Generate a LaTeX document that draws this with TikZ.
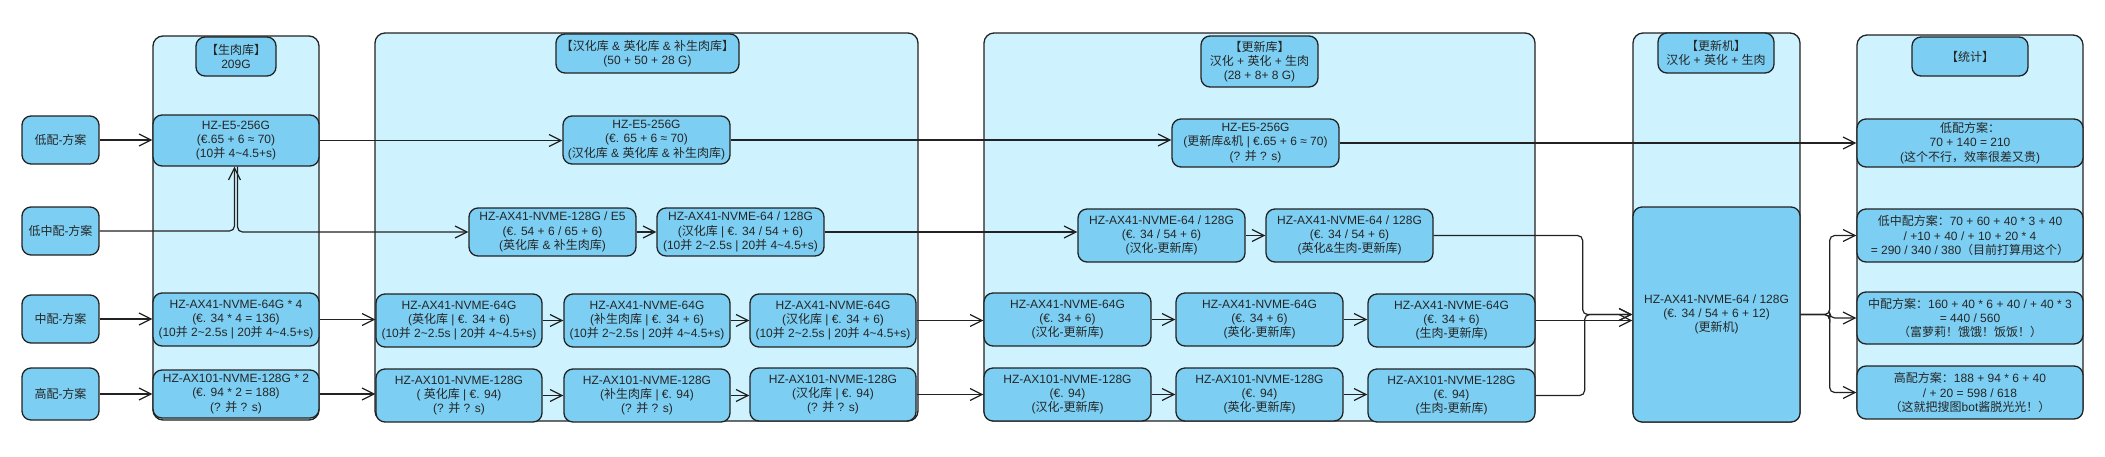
\documentclass[tikz,border=0pt]{standalone}
\usepackage{fontspec}
\setmainfont{Liberation Sans}
\newfontfamily\latinfont{Liberation Sans}
\newfontfamily\cjkfont{Noto Sans CJK SC}
\usetikzlibrary{arrows.meta}
\definecolor{nodefill}{HTML}{7CCFF3}
\definecolor{grpfill}{HTML}{CEF3FE}
\definecolor{edgecol}{HTML}{222222}
\XeTeXinterchartokenstate=1
\newXeTeXintercharclass\cjkclass
\newcount\cjkcnt
\def\setcjkrange#1#2{\cjkcnt=#1\relax\loop\XeTeXcharclass\cjkcnt=\cjkclass\advance\cjkcnt by 1\relax\ifnum\cjkcnt<#2\repeat}
\setcjkrange{"3000}{"3040}
\setcjkrange{"4E00}{"A000}
\setcjkrange{"FF00}{"FFF0}
\XeTeXinterchartoks 0 \cjkclass = {\cjkfont}
\XeTeXinterchartoks 4095 \cjkclass = {\cjkfont}
\XeTeXinterchartoks \cjkclass 0 = {\latinfont}
\XeTeXinterchartoks \cjkclass 4095 = {\latinfont}
\newcommand\tld{\char"7E\relax}
\newcommand\boxnode[7][box]{\node[#1,minimum width={(#5-(#3))*1pt},minimum height={(#6-(#4))*1pt}] (#2) at ({(#3+#5)/2},{(#4+#6)/2}) {#7};}
\begin{document}
\begin{tikzpicture}[x=1pt,y=-1pt,
  box/.style={draw=edgecol,line width=1.3pt,fill=nodefill,rounded corners=9pt,align=center,inner sep=0pt,text=black!85,font=\fontsize{12}{14.2}\selectfont},
  grp/.style={draw=edgecol,line width=1.3pt,fill=grpfill,rounded corners=10pt,inner sep=0pt},
  conn/.style={draw=edgecol,line width=1.2pt,rounded corners=5pt,-{Straight Barb[length=12pt,width=12pt]}}]
\useasboundingbox (0,0) rectangle (2105,456);
% groups
\boxnode[grp]{g1f}{153}{36}{319}{420}{}
\boxnode[grp]{g2f}{375}{33}{918}{421}{}
\boxnode[grp]{g3f}{984}{33}{1535}{421}{}
\boxnode[grp]{g4f}{1633}{33}{1800}{422}{}
\boxnode[grp]{g5f}{1857}{35}{2083}{418}{}
% titles
\boxnode{g1}{196}{37}{276}{76}{【生肉库】\\209G}
\boxnode{g2}{556}{34}{739}{73}{【汉化库 \& 英化库 \& 补生肉库】\\(50 + 50 + 28 G)}
\boxnode{g3}{1201}{36}{1318}{87}{【更新库】\\汉化 + 英化 + 生肉\\(28 + 8+ 8 G)}
\boxnode{g4}{1658}{33}{1774}{73}{【更新机】\\汉化 + 英化 + 生肉}
\boxnode{g5}{1912}{37}{2028}{76}{【统计】}
% plans
\boxnode{p1}{22}{116}{99}{164}{低配-方案}
\boxnode{p2}{22}{207}{99}{255}{低中配-方案}
\boxnode{p3}{22}{295}{99}{343}{中配-方案}
\boxnode{p4}{22}{368}{99}{420}{高配-方案}
% group 1
\boxnode{a1}{153}{115}{319}{166}{HZ-E5-256G\\(€.65 + 6 ≈ 70)\\(10并 4\tld4.5+s)}
\boxnode{a3}{153}{293}{319}{346}{HZ-AX41-NVME-64G * 4\\(€. 34 * 4 = 136)\\(10并 2\tld2.5s | 20并 4\tld4.5+s)}
\boxnode{a4}{153}{370}{319}{418}{HZ-AX101-NVME-128G * 2\\(€. 94 * 2 = 188)\\(?  并 ?  s)}
% group 2
\boxnode{b1}{563}{116}{730}{164}{HZ-E5-256G\\(€. 65 + 6 ≈ 70)\\(汉化库 \& 英化库 \& 补生肉库)}
\boxnode{b2}{469}{208}{636}{256}{HZ-AX41-NVME-128G / E5\\(€. 54 + 6 / 65 + 6)\\(英化库 \& 补生肉库)}
\boxnode{b3}{657}{208}{824}{256}{HZ-AX41-NVME-64 / 128G\\(汉化库 | €. 34 / 54 + 6)\\(10并 2\tld2.5s | 20并 4\tld4.5+s)}
\boxnode{b4}{376}{294}{542}{347}{HZ-AX41-NVME-64G\\(英化库 | €. 34 + 6)\\(10并 2\tld2.5s | 20并 4\tld4.5+s)}
\boxnode{b5}{564}{294}{730}{347}{HZ-AX41-NVME-64G\\(补生肉库 | €. 34 + 6)\\(10并 2\tld2.5s | 20并 4\tld4.5+s)}
\boxnode{b6}{750}{294}{916}{347}{HZ-AX41-NVME-64G\\(汉化库 | €. 34 + 6)\\(10并 2\tld2.5s | 20并 4\tld4.5+s)}
\boxnode{b7}{376}{369}{542}{422}{HZ-AX101-NVME-128G\\( 英化库 | €. 94)\\(?  并 ?  s)}
\boxnode{b8}{564}{369}{730}{422}{HZ-AX101-NVME-128G\\(补生肉库 | €. 94)\\(?  并 ?  s)}
\boxnode{b9}{750}{368}{916}{421}{HZ-AX101-NVME-128G\\(汉化库 | €. 94)\\(?  并 ?  s)}
% group 3
\boxnode{c1}{1172}{119}{1339}{167}{HZ-E5-256G\\(更新库\&机 | €.65 + 6 ≈ 70)\\(?  并 ?  s)}
\boxnode{c2}{1078}{209}{1245}{262}{HZ-AX41-NVME-64 / 128G\\(€. 34 / 54 + 6)\\(汉化-更新库)}
\boxnode{c3}{1266}{209}{1433}{262}{HZ-AX41-NVME-64 / 128G\\(€. 34 / 54 + 6)\\(英化\&生肉-更新库)}
\boxnode{c4}{984}{293}{1151}{346}{HZ-AX41-NVME-64G\\(€. 34 + 6)\\(汉化-更新库)}
\boxnode{c5}{1176}{293}{1343}{346}{HZ-AX41-NVME-64G\\(€. 34 + 6)\\(英化-更新库)}
\boxnode{c6}{1368}{294}{1535}{347}{HZ-AX41-NVME-64G\\(€. 34 + 6)\\(生肉-更新库)}
\boxnode{c7}{984}{368}{1151}{421}{HZ-AX101-NVME-128G\\(€. 94)\\(汉化-更新库)}
\boxnode{c8}{1176}{368}{1343}{421}{HZ-AX101-NVME-128G\\(€. 94)\\(英化-更新库)}
\boxnode{c9}{1368}{369}{1535}{422}{HZ-AX101-NVME-128G\\(€. 94)\\(生肉-更新库)}
% group 4
\boxnode{d1}{1633}{207}{1800}{422}{HZ-AX41-NVME-64 / 128G\\(€. 34 / 54 + 6 + 12)\\(更新机)}
% group 5
\boxnode{e1}{1857}{119}{2083}{167}{低配方案：\\70 + 140 = 210\\(这个不行，效率很差又贵)}
\boxnode{e2}{1857}{209}{2083}{262}{低中配方案：70 + 60 + 40 * 3 + 40\\/ +10 + 40 / + 10 + 20 * 4\\= 290 / 340 / 380（目前打算用这个）}
\boxnode{e3}{1857}{292}{2083}{344}{中配方案：160 + 40 * 6 + 40 / + 40 * 3\\= 440 / 560\\（富萝莉！饿饿！饭饭！）}
\boxnode{e4}{1857}{366}{2083}{419}{高配方案：188 + 94 * 6 + 40\\/ + 20 = 598 / 618\\（这就把搜图bot酱脱光光！）}
% connectors
\draw[conn] (p1.east) -- (p1.east -| a1.west);
\draw[conn] (p2.east) -| ([xshift=-1.5pt]a1.south);
\draw[conn] ([xshift=1.5pt]a1.south) |- (b2.west);
\draw[conn] (a1.east) -- (a1.east -| b1.west);
\draw[conn] (b1.east) -- (b1.east -| c1.west);
\draw[conn] (c1.east) -- (c1.east -| e1.west);
\draw[conn] (b2.east) -- (b2.east -| b3.west);
\draw[conn] (b3.east) -- (b3.east -| c2.west);
\draw[conn] (c2.east) -- (c2.east -| c3.west);
\draw[conn] (c3.east) -- ++(149,0) |- (d1.west);
\draw[conn] (p3.east) -- (p3.east -| a3.west);
\draw[conn] (a3.east) -- (a3.east -| b4.west);
\draw[conn] (b4.east) -- (b4.east -| b5.west);
\draw[conn] (b5.east) -- (b5.east -| b6.west);
\draw[conn] (b6.east) -- (b6.east -| c4.west);
\draw[conn] (c4.east) -- (c4.east -| c5.west);
\draw[conn] (c5.east) -- (c5.east -| c6.west);
\draw[conn] (c6.east) -- (c6.east -| d1.west);
\draw[conn] (p4.east) -- (p4.east -| a4.west);
\draw[conn] (a4.east) -- (a4.east -| b7.west);
\draw[conn] (b7.east) -- (b7.east -| b8.west);
\draw[conn] (b8.east) -- (b8.east -| b9.west);
\draw[conn] (b9.east) -- (b9.east -| c7.west);
\draw[conn] (c7.east) -- (c7.east -| c8.west);
\draw[conn] (c8.east) -- (c8.east -| c9.west);
\draw[conn] (c9.east) -- ++(49,0) |- (d1.west);
\draw[conn] (d1.east) -- ++(29,0) |- (e2.west);
\draw[conn] (d1.east) -- ++(29,0) |- (e3.west);
\draw[conn] (d1.east) -- ++(29,0) |- (e4.west);
\end{tikzpicture}
\end{document}
